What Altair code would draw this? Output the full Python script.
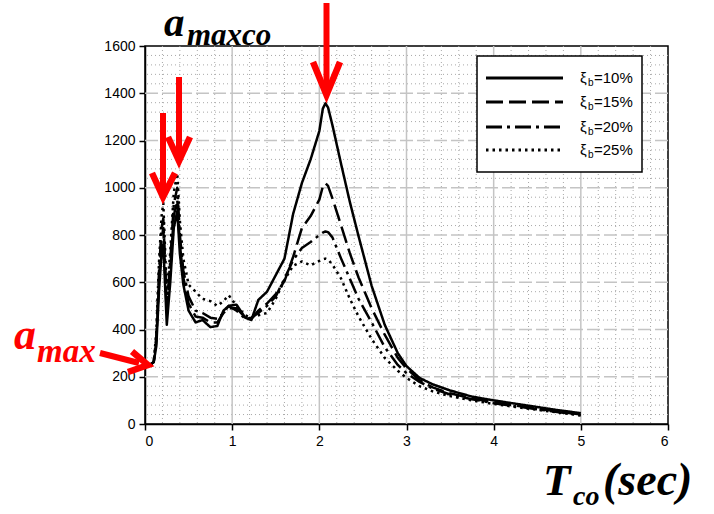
import altair as alt
import pandas as pd

# ---------------- data ----------------
T = [0, 0.05, 0.1, 0.13, 0.16, 0.19, 0.21, 0.25, 0.29, 0.33, 0.37, 0.40, 0.44, 0.5, 0.58,
     0.66, 0.75, 0.83, 0.9, 0.96, 1.05, 1.15, 1.22, 1.3, 1.4, 1.5, 1.6, 1.7, 1.8, 1.9,
     2.0, 2.04, 2.07, 2.1, 2.15, 2.25, 2.35, 2.45, 2.6, 2.75, 2.9, 3.0, 3.15, 3.3, 3.5,
     3.75, 4.0, 4.25, 4.5, 4.75, 5.0]
a10 = [240, 248, 262, 330, 560, 720, 760, 420, 600, 830, 900, 720, 590, 480, 430,
       440, 410, 415, 480, 500, 505, 450, 440, 525, 560, 630, 700, 890, 1020, 1120,
       1240, 1335, 1357, 1340, 1265, 1100, 940, 795, 585, 420, 300, 245, 195, 168, 142,
       116, 100, 86, 72, 58, 46]
a15 = [240, 248, 262, 350, 600, 780, 830, 470, 650, 880, 950, 760, 620, 510, 455,
       450, 430, 430, 470, 490, 490, 450, 445, 480, 510, 550, 605, 708, 830, 880,
       950, 1005, 1019, 1008, 955, 840, 723, 620, 490, 378, 280, 235, 185, 155, 130,
       108, 92, 78, 65, 52, 40]
a20 = [240, 248, 262, 370, 640, 830, 870, 500, 690, 930, 1000, 800, 650, 540, 480,
       470, 450, 445, 470, 500, 480, 445, 450, 470, 500, 540, 615, 694, 745, 770,
       800, 810, 815, 812, 790, 700, 615, 530, 430, 325, 250, 215, 178, 150, 125,
       105, 88, 75, 62, 50, 38]
a25 = [240, 248, 262, 390, 680, 880, 935, 550, 730, 980, 1060, 860, 700, 590, 560,
       530, 520, 500, 520, 545, 500, 460, 450, 460, 470, 530, 610, 670, 688, 672,
       690, 697, 700, 696, 675, 615, 530, 455, 360, 280, 225, 195, 160, 138, 118,
       100, 85, 72, 60, 48, 36]
series = ["10%", "15%", "20%", "25%"]
x_ticks = [0, 1, 2, 3, 4, 5, 6]
y_ticks = [0, 200, 400, 600, 800, 1000, 1200, 1400, 1600]

# ---------------- tables ----------------
rows = []
for s, vals in zip(series, [a10, a15, a20, a25]):
    for t, v in zip(T, vals):
        rows.append({"T": t, "a": v, "series": s})
df = pd.DataFrame(rows)

x_minor = pd.DataFrame({"v": [round(i * 0.2, 1) for i in range(1, 30) if i % 5 != 0]})
y_minor = pd.DataFrame({"v": [i * 40 for i in range(1, 40) if i % 5 != 0]})
x_major = pd.DataFrame({"v": x_ticks[1:-1]})
y_major = pd.DataFrame({"v": y_ticks[1:-1]})

dash_scale = alt.Scale(domain=series,
                       range=[[1, 0], [17, 6], [16, 5, 3, 5], [2.5, 4]])

xs = alt.Scale(domain=[0, 6], nice=False, zero=False)
ys = alt.Scale(domain=[0, 1600], nice=False)

W, H = 523, 378

grid_xmin = alt.Chart(x_minor).mark_rule(color="#a8a8a8", strokeWidth=1, strokeDash=[1, 3]).encode(
    x=alt.X("v:Q", scale=xs))
grid_ymin = alt.Chart(y_minor).mark_rule(color="#a8a8a8", strokeWidth=1, strokeDash=[1, 3]).encode(
    y=alt.Y("v:Q", scale=ys))
grid_xmaj = alt.Chart(x_major).mark_rule(color="#c4c4c4", strokeWidth=1.5).encode(
    x=alt.X("v:Q", scale=xs))
grid_ymaj = alt.Chart(y_major).mark_rule(color="#c4c4c4", strokeWidth=1.5, strokeDash=[13, 4]).encode(
    y=alt.Y("v:Q", scale=ys))

lines = alt.Chart(df).mark_line(color="black", strokeWidth=2.5, strokeJoin="round").encode(
    x=alt.X("T:Q", scale=xs,
            axis=alt.Axis(values=x_ticks, title=None, format="d", grid=False)),
    y=alt.Y("a:Q", scale=ys,
            axis=alt.Axis(values=y_ticks, title=None, format="d", grid=False)),
    strokeDash=alt.StrokeDash("series:N", scale=dash_scale, legend=None),
    detail="series:N",
)

# ---------------- legend (manual, for the subscript) ----------------
leg = pd.DataFrame({"series": series, "ly": [32, 56, 81, 104]})
leg_box = alt.Chart(pd.DataFrame({"k": [0]})).mark_rect(
    fill="white", stroke="black", strokeWidth=1.5).encode(
    x=alt.value(332), x2=alt.value(497), y=alt.value(10), y2=alt.value(126))
leg_lines = alt.Chart(leg).mark_rule(color="black", strokeWidth=3).encode(
    x=alt.value(341), x2=alt.value(418),
    y=alt.Y("ly:Q", scale=None),
    strokeDash=alt.StrokeDash("series:N", scale=dash_scale, legend=None))
leg_xi = alt.Chart(leg).mark_text(text="ξ", font="Liberation Sans", fontSize=15,
                                  align="left", baseline="alphabetic", dx=0, dy=5,
                                  color="black").encode(
    x=alt.value(435), y=alt.Y("ly:Q", scale=None))
leg_b = alt.Chart(leg).mark_text(text="b", font="Liberation Sans", fontSize=10,
                                 align="left", baseline="alphabetic", dy=8,
                                 color="black").encode(
    x=alt.value(443), y=alt.Y("ly:Q", scale=None))
leg_txt = alt.Chart(leg).transform_calculate(lab="'=' + datum.series").mark_text(
    font="Liberation Sans", fontSize=15, align="left", baseline="alphabetic", dy=5,
    color="black").encode(
    x=alt.value(449), y=alt.Y("ly:Q", scale=None), text="lab:N")

# ---------------- red arrows ----------------
shafts = pd.DataFrame({
    "x1": [18, 34, 181.5, -45], "y1": [67, 31, -43, 307],
    "x2": [18, 34, 181.5, -6], "y2": [147, 111, 45, 317]})
arrow_shafts = alt.Chart(shafts).mark_rule(color="#ff0000", strokeWidth=6, strokeCap="butt").encode(
    x=alt.X("x1:Q", scale=None), y=alt.Y("y1:Q", scale=None),
    x2="x2:Q", y2="y2:Q")
heads = pd.DataFrame({
    "id": [0, 0, 0, 1, 1, 1, 2, 2, 2, 3, 3, 3],
    "o": [0, 1, 2] * 4,
    "px": [7, 18, 30, 23, 34, 45, 168, 181.5, 195, -13, 3, -17],
    "py": [127, 151, 127, 91, 115, 91, 16, 49, 16, 305.5, 319, 326]})
arrow_heads = alt.Chart(heads).mark_line(color="#ff0000", strokeWidth=6.5, strokeJoin="miter",
                                          strokeCap="butt").encode(
    x=alt.X("px:Q", scale=None), y=alt.Y("py:Q", scale=None),
    detail="id:N", order="o:Q")

# ---------------- annotation text ----------------
one = pd.DataFrame({"k": [0]})
serif = "Liberation Serif"


def txt(s, x, y, size, color="black"):
    return alt.Chart(one).mark_text(text=s, font=serif, fontSize=size, fontStyle="italic",
                                    fontWeight="bold", align="left", baseline="alphabetic",
                                    color=color).encode(x=alt.value(x), y=alt.value(y))


ann = [
    txt("a", 19, -10, 41),
    txt("maxco", 42, -1, 31),
    txt("a", -131, 303, 44, "#ff0000"),
    txt("max", -108, 316, 33, "#ff0000"),
    txt("T", 398, 449, 45),
    txt("co", 428, 459, 28),
    txt("(sec)", 458, 449, 46),
]

chart = alt.layer(
    grid_xmin, grid_ymin, grid_xmaj, grid_ymaj, lines,
    leg_box, leg_lines, leg_xi, leg_b, leg_txt,
    arrow_shafts, arrow_heads, *ann
).properties(
    width=W, height=H,
    autosize=alt.AutoSizeParams(type="none"),
    padding={"left": 145, "top": 46, "right": 46, "bottom": 90},
    background="white",
).configure_view(
    stroke="black", strokeWidth=1.5
).configure_axis(
    domainColor="black", domainWidth=1.5, tickColor="black", tickWidth=1.5, tickSize=6,
    labelFont="Liberation Sans", labelFontSize=14, labelColor="black", labelPadding=4,
)

chart.save("out.html", embed_options={"renderer": "svg", "actions": False})
